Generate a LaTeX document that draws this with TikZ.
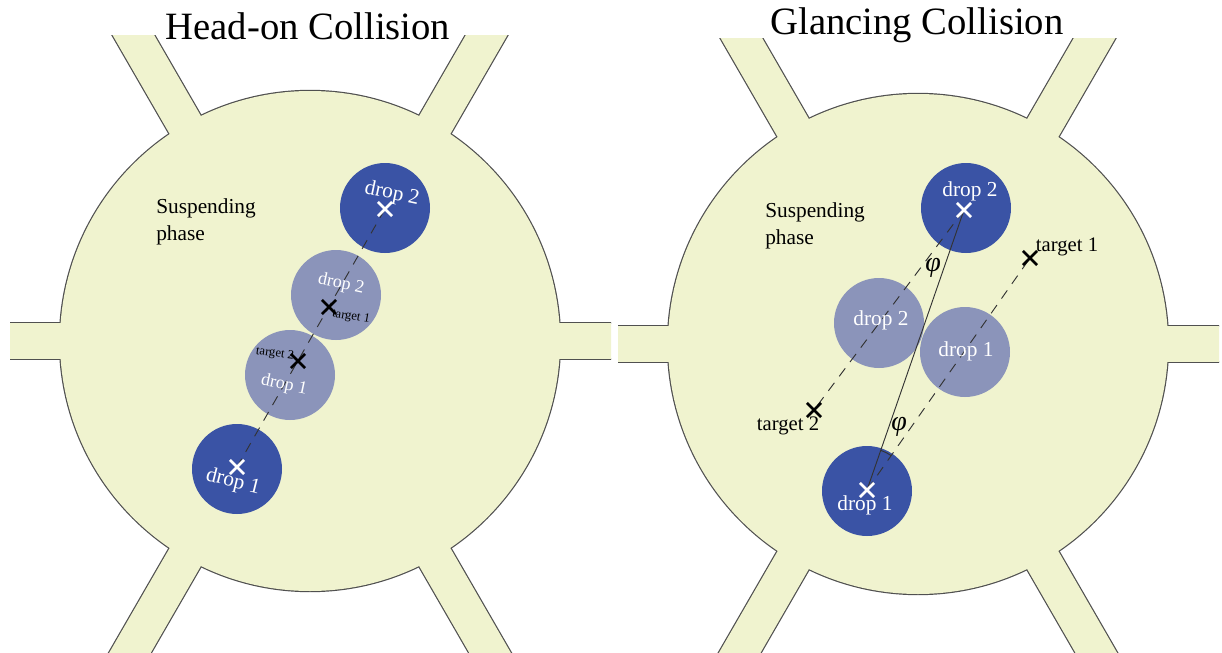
\documentclass[tikz,border=0pt]{standalone}
\usepackage{fontspec}
\setmainfont{Liberation Serif}
\usetikzlibrary{shapes.misc}
\definecolor{cfill}{RGB}{240,243,207}
\definecolor{cwall}{RGB}{80,80,80}
\definecolor{dropdark}{RGB}{58,83,165}
\definecolor{droplight}{RGB}{139,148,186}

\begin{document}
\begin{tikzpicture}[x=0.75pt, y=-0.75pt,
    wall/.style={draw=cwall, line width=1.8pt},
    body/.style={fill=cfill},
    drop/.style={circle, minimum size=67.5pt, inner sep=0pt},
    dark/.style={drop, fill=dropdark},
    light/.style={drop, fill=droplight},
    title/.style={font=\fontsize{29}{34}\selectfont, anchor=base, inner sep=0pt},
    phase/.style={font=\fontsize{16}{20.5}\selectfont, align=left, anchor=north west, inner sep=0pt},
    dlabel/.style={text=white, font=\fontsize{16}{19}\selectfont, inner sep=0pt},
    slabel/.style={text=white, font=\fontsize{13.5}{16}\selectfont, inner sep=0pt},
    tlabel/.style={font=\fontsize{15.5}{18}\selectfont, inner sep=0pt},
    philabel/.style={font=\fontsize{21}{24}\selectfont\itshape, inner sep=0pt},
    smalltarget/.style={font=\fontsize{9.5}{11}\selectfont, inner sep=0pt},
    xmark/.style={cross out, draw, minimum size=8.5pt, line width=2.1pt, inner sep=0pt},
    link/.style={draw=black!80, line width=0.7pt},
    dlink/.style={link, dash pattern=on 7.5pt off 6pt}]
    \useasboundingbox (0,0) rectangle (1222,653);

    % the two chambers with six channels each
    \foreach \cx/\cy in {310/341, 918/344} {
        \begin{scope}[shift={(\cx,\cy)}]
            \clip (-300,-306) rectangle (301,320);
            \foreach \a in {0,60,120}
                \draw[wall, rotate=\a] (-420,-18) rectangle (420,18);
            \draw[wall] (0,0) circle[radius=250];
            \foreach \a in {0,60,120}
                \fill[body, rotate=\a] (-420,-18) rectangle (420,18);
            \fill[body] (0,0) circle[radius=250];
        \end{scope}
    }

    \node[title] (headon) at (308,39) {Head-on Collision};
    \node[title] (glancing) at (917,35) {Glancing Collision};
    \node[phase] (hphase) at (156,198) {Suspending\\phase};
    \node[phase] (gphase) at (765,202) {Suspending\\phase};

    % head-on
    \node[dark] (hd2) at (385,208) {};
    \node[light] (hl2) at (336,295) {};
    \node[light] (hl1) at (290,375) {};
    \node[dark] (hd1) at (237,469) {};
    \coordinate (hc2) at (385,209);
    \coordinate (hc1) at (237,467);
    \draw[dlink] (hc2) -- (hc1);
    \node[xmark, draw=white] (hx2) at (hc2) {};
    \node[xmark] (ht1) at (329,307) {};
    \node[xmark] (ht2) at (298,361) {};
    \node[xmark, draw=white] (hx1) at (hc1) {};
    \node[dlabel] (hd2txt) at (392,194) {\rotatebox{-12}{drop 2}};
    \node[slabel] (hl2txt) at (341,284) {\rotatebox{-12}{drop 2}};
    \node[smalltarget] (ht1txt) at (351,317) {\rotatebox{-10}{target 1}};
    \node[smalltarget] (ht2txt) at (275,354) {\rotatebox{-8}{target 2}};
    \node[slabel] (hl1txt) at (284,385) {\rotatebox{-12}{drop 1}};
    \node[dlabel] (hd1txt) at (233,482) {\rotatebox{-14}{drop 1}};

    % glancing
    \node[dark] (gd2) at (966,208) {};
    \node[light] (gl2) at (879,323) {};
    \node[light] (gl1) at (965,352) {};
    \node[dark] (gd1) at (867,491) {};
    \coordinate (gc2) at (964,210);
    \coordinate (gc1) at (867,490);
    \coordinate (gc3) at (1030,258);
    \coordinate (gc4) at (814,410);
    \draw[link] (gc1) -- (gc2);
    \draw[dlink] (gc2) -- (gc4);
    \draw[dlink] (gc1) -- (gc3);
    \draw[link] ([shift={(-55:42)}]gc1) arc[start angle=-55, end angle=-71, radius=42];
    \node[xmark, draw=white] (gx2) at (gc2) {};
    \node[xmark, draw=white] (gx1) at (gc1) {};
    \node[xmark] (gt1) at (gc3) {};
    \node[xmark] (gt2) at (gc4) {};
    \node[dlabel] (gd2txt) at (970,191) {drop 2};
    \node[dlabel] (gl2txt) at (881,320) {drop 2};
    \node[dlabel] (gl1txt) at (966,351) {drop 1};
    \node[dlabel] (gd1txt) at (865,505) {drop 1};
    \node[tlabel] (gt1txt) at (1067,247) {target 1};
    \node[tlabel] (gt2txt) at (788,426) {target 2};
    \node[philabel] (phi1) at (933,268) {φ};
    \node[philabel] (phi2) at (899,427) {φ};
\end{tikzpicture}
\end{document}
